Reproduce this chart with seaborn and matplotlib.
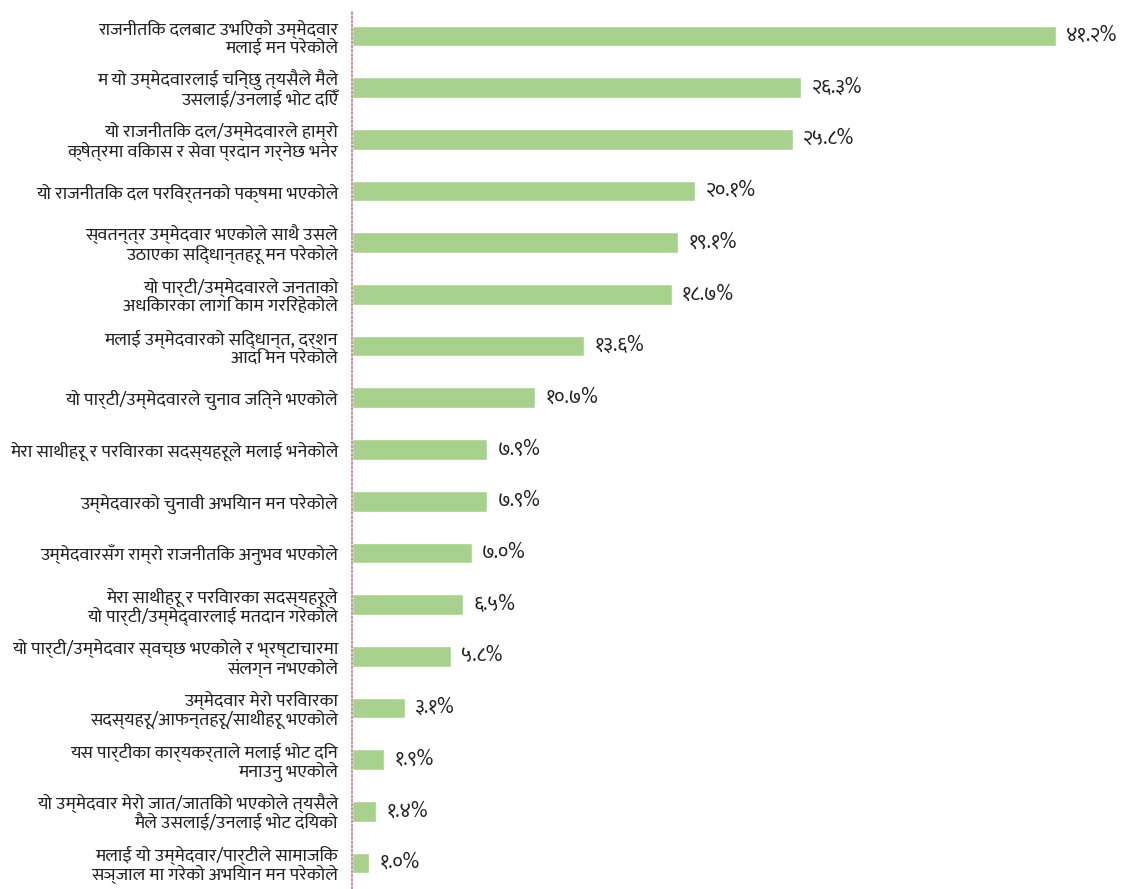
import matplotlib
matplotlib.use("Agg")
import matplotlib.pyplot as plt
from matplotlib import font_manager
import pandas as pd
import seaborn as sns

reasons = [
    "राजनीतिक दलबाट उभिएको उम्मेदवार\nमलाई मन परेकोले",
    "म यो उम्मेदवारलाई चिन्छु त्यसैले मैले\nउसलाई/उनलाई भोट दिएँ",
    "यो राजनीतिक दल/उम्मेदवारले हाम्रो\nक्षेत्रमा विकास र सेवा प्रदान गर्नेछ भनेर",
    "यो राजनीतिक दल परिवर्तनको पक्षमा भएकोले",
    "स्वतन्त्र उम्मेदवार भएकोले साथै उसले\nउठाएका सिद्धान्तहरू मन परेकोले",
    "यो पार्टी/उम्मेदवारले जनताको\nअधिकारका लागि काम गरिरहेकोले",
    "मलाई उम्मेदवारको सिद्धान्त, दर्शन\nआदि मन परेकोले",
    "यो पार्टी/उम्मेदवारले चुनाव जित्ने भएकोले",
    "मेरा साथीहरू र परिवारका सदस्यहरूले मलाई भनेकोले",
    "उम्मेदवारको चुनावी अभियान मन परेकोले",
    "उम्मेदवारसँग राम्रो राजनीतिक अनुभव भएकोले",
    "मेरा साथीहरू र परिवारका सदस्यहरूले\nयो पार्टी/उम्मेद्वारलाई मतदान गरेकोले",
    "यो पार्टी/उम्मेदवार स्वच्छ भएकोले र भ्रष्टाचारमा\nसंलग्न नभएकोले",
    "उम्मेदवार मेरो परिवारका\nसदस्यहरू/आफन्तहरू/साथीहरू भएकोले",
    "यस पार्टीका कार्यकर्ताले मलाई भोट दिन\nमनाउनु भएकोले",
    "यो उम्मेदवार मेरो जात/जातिको भएकोले त्यसैले\nमैले उसलाई/उनलाई भोट दियको",
    "मलाई यो उम्मेदवार/पार्टीले सामाजिक\nसञ्जाल मा गरेको अभियान मन परेकोले",
]
percent = [41.2, 26.3, 25.8, 20.1, 19.1, 18.7, 13.6, 10.7, 7.9, 7.9, 7.0, 6.5, 5.8, 3.1, 1.9, 1.4, 1.0]

df = pd.DataFrame({"Reason": reasons, "Percent": percent})

# pick a Devanagari font that is actually installed
installed = {f.name for f in font_manager.fontManager.ttflist}
wanted = ["Mukta", "Hind", "Noto Sans Devanagari", "Noto Sans Devanagari UI", "Yantramanav"]
fams = [n for n in wanted if n in installed][:1] + ["DejaVu Sans"]

sns.set_style("white")
plt.rcParams["font.family"] = fams

fig = plt.figure(figsize=(11.21, 8.89), dpi=100)
ax = fig.add_axes([352 / 1121, 0, 1 - 352 / 1121, 1 - 10 / 889])
sns.barplot(data=df, y="Reason", x="Percent", color="#a9d18e", saturation=1,
            width=0.4, orient="h", ax=ax)

digits = str.maketrans("0123456789", "०१२३४५६७८९")
for i, v in enumerate(percent):
    ax.text(v + 0.6, i, f"{v:.1f}%".translate(digits), va="center", ha="left",
            fontsize=14.5, color="#222222")

ax.set_xlim(0, 45)
ax.set_ylim(len(reasons) - 0.5, -0.5)
ax.set_xlabel("")
ax.set_ylabel("")
ax.set_xticks([])
ax.tick_params(axis="y", length=0, pad=10, labelsize=13.2, labelcolor="#222222")
for lab in ax.get_yticklabels():
    lab.set_linespacing(1.0)
for s in ["top", "right", "bottom"]:
    ax.spines[s].set_visible(False)
ax.spines["left"].set_color("#c87a98")
ax.spines["left"].set_linestyle((0, (1, 1.5)))
ax.spines["left"].set_linewidth(1.2)

fig.savefig("out.png", dpi=100)
